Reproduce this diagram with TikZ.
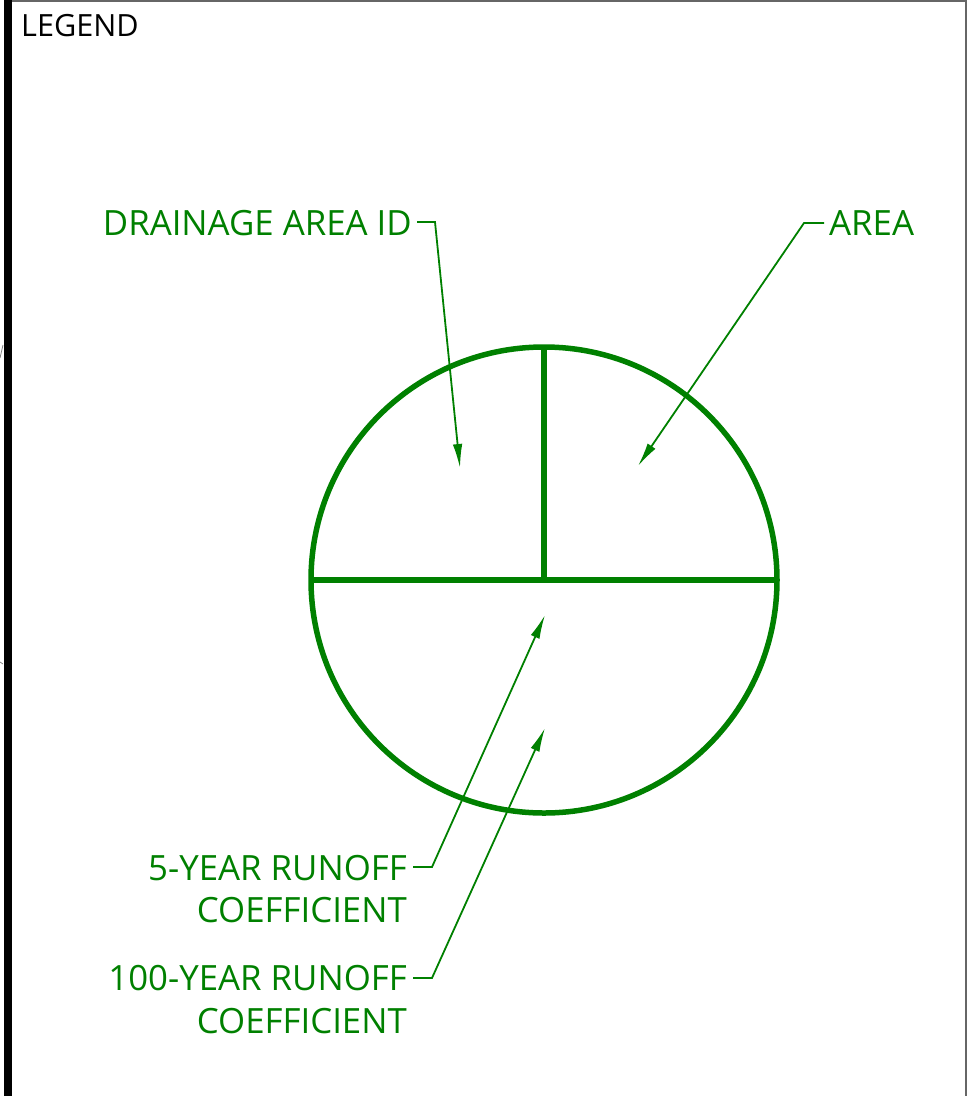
\documentclass[tikz,border=0pt]{standalone}
\usepackage{fontspec}
\setmainfont{Open Sans}
\usetikzlibrary{arrows.meta}
\definecolor{lg}{RGB}{0,128,0}
\begin{document}
\begin{tikzpicture}[x=1pt,y=-1pt,
  lbl/.style={text=lg,font=\fontsize{34.8}{43}\selectfont,inner sep=0pt},
  ldr/.style={draw=lg,line width=1.8pt,-{Latex[length=24pt,width=9.5pt]}},
  sym/.style={draw=lg,line width=5.5pt}]
\useasboundingbox (0,0) rectangle (968,1096);
% frame
\fill[black] (4,0) rectangle (12,1096);
\draw[gray!80!black,line width=1.5pt] (12,1) -- (966,1) -- (966,1096);
\draw[gray,line width=0.8pt] (0,358) -- (3,345);
\draw[gray,line width=0.8pt] (0,662) -- (3,664);
\node[anchor=base west,font=\fontsize{30.6}{34}\selectfont,inner sep=0pt] (legend) at (21,36) {LEGEND};
% symbol
\coordinate (c) at (544,580);
\draw[sym] (c) circle (233);
\draw[sym] (311,580) -- (777,580);
\draw[sym] (544,347) -- (c);
\coordinate (t1) at (460,468);
\coordinate (t2) at (638,466);
\coordinate (t3) at (545,615);
\coordinate (t4) at (545,728);
% labels
\node[lbl,anchor=base east] (id) at (412,235) {DRAINAGE AREA ID};
\node[lbl,anchor=base west] (area) at (829,235) {AREA};
\node[lbl,anchor=base east] (y5a) at (407,880) {5-YEAR RUNOFF};
\node[lbl,anchor=base east] (y5b) at (407,922) {COEFFICIENT};
\node[lbl,anchor=base east] (y100a) at (407,990) {100-YEAR RUNOFF};
\node[lbl,anchor=base east] (y100b) at (407,1033) {COEFFICIENT};
% leaders
\draw[ldr] ([xshift=5pt,yshift=13pt]id.base east) -- ++(18,0) -- (t1);
\draw[ldr] ([xshift=-5pt,yshift=12pt]area.base west) -- ++(-20,0) -- (t2);
\draw[ldr] ([xshift=6pt,yshift=13pt]y5a.base east) -- ++(19,0) -- (t3);
\draw[ldr] ([xshift=6pt,yshift=12pt]y100a.base east) -- ++(19,0) -- (t4);
\end{tikzpicture}
\end{document}
